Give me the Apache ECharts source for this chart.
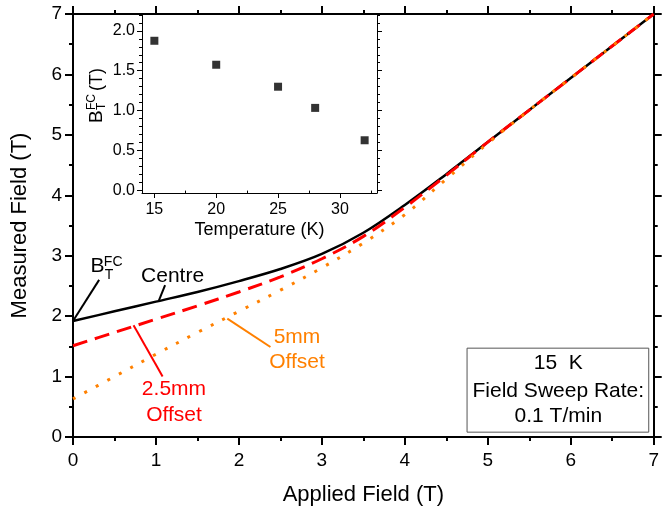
<!DOCTYPE html>
<html>
<head>
<meta charset="utf-8">
<script src="https://cdn.jsdelivr.net/npm/echarts@6/dist/echarts.min.js"></script>
<style>
  html, body { margin: 0; padding: 0; background: #fff; }
  #chart { width: 662px; height: 512px; }
</style>
</head>
<body>
<div id="chart"></div>
<script>
// main curves: measured vs applied field
var appliedField = [0, 0.5, 1, 1.5, 2, 2.5, 3, 3.5, 4, 4.5, 5, 5.5, 6, 6.5, 7];
var centreField  = [1.92, 2.08, 2.24, 2.40, 2.58, 2.78, 3.03, 3.38, 3.84, 4.35, 4.88, 5.41, 5.94, 6.47, 7.0];
var offset25     = [1.51, 1.73, 1.95, 2.17, 2.40, 2.65, 2.95, 3.32, 3.80, 4.33, 4.88, 5.41, 5.94, 6.47, 7.0];
var offset5      = [0.63, 1.00, 1.37, 1.73, 2.08, 2.43, 2.80, 3.21, 3.68, 4.27, 4.86, 5.41, 5.94, 6.47, 7.0];

// inset: B_T^FC vs temperature
var insetTemp = [15, 20, 25, 28, 32];
var insetBtfc = [1.875, 1.575, 1.30, 1.035, 0.63];

// tick values
var insetTempTicks = [15, 20, 25, 30];
var insetTempMinor = [17.5, 22.5, 27.5, 32.5];
var insetBTicks = [0, 0.5, 1.0, 1.5, 2.0];
var insetBMinor = [0.1, 0.2, 0.3, 0.4, 0.6, 0.7, 0.8, 0.9, 1.1, 1.2, 1.3, 1.4, 1.6, 1.7, 1.8, 1.9, 2.1, 2.2];

var FONT = '"Liberation Sans", Arial, sans-serif';
var RED = '#ff0000', ORANGE = '#ff8000';

function pairs(xs, ys) {
  var res = [];
  for (var i = 0; i < xs.length; i++) res.push([xs[i], ys[i]]);
  return res;
}

var chart = echarts.init(document.getElementById('chart'));

function mainAxis(pos, extra) {
  var o = {
    type: 'value', gridIndex: 0, position: pos, min: 0, max: 7, interval: 1,
    axisLine: { show: true, onZero: false, lineStyle: { color: '#000', width: 2 } },
    axisTick: { show: true, inside: false, length: 8, lineStyle: { color: '#000', width: 2 } },
    minorTick: { show: true, splitNumber: 2, length: 4, lineStyle: { color: '#000', width: 2 } },
    splitLine: { show: false },
    axisLabel: { show: false }
  };
  for (var k in extra) o[k] = extra[k];
  return o;
}

function insetAxis(pos, min, max, ticks, len, extra) {
  var o = {
    type: 'value', gridIndex: 1, position: pos, min: min, max: max,
    axisLine: { show: true, onZero: false, lineStyle: { color: '#000', width: 1 } },
    axisTick: { show: true, inside: false, length: len, customValues: ticks, lineStyle: { color: '#000', width: 1 } },
    splitLine: { show: false },
    axisLabel: { show: false }
  };
  for (var k in extra) o[k] = extra[k];
  return o;
}

chart.setOption({
  animation: false,
  backgroundColor: '#fff',
  grid: [
    { left: 73, top: 14, right: 5, bottom: 75 },
    { left: 142, top: 14, width: 235, height: 179, show: true, backgroundColor: '#fff', borderWidth: 0 }
  ],
  xAxis: [
    mainAxis('bottom', {
      axisLabel: { show: true, color: '#000', fontSize: 19, fontFamily: FONT, margin: 14 },
      name: 'Applied Field (T)', nameLocation: 'middle', nameGap: 47,
      nameTextStyle: { color: '#000', fontSize: 22, fontFamily: FONT }
    }),
    mainAxis('top', {}),
    insetAxis('bottom', 14, 33, insetTempTicks, 5, {
      axisLabel: { show: true, customValues: insetTempTicks, color: '#000', fontSize: 16, fontFamily: FONT, margin: 9 },
      name: 'Temperature (K)', nameLocation: 'middle', nameGap: 28,
      nameTextStyle: { color: '#000', fontSize: 18, fontFamily: FONT }
    }),
    insetAxis('bottom', 14, 33, insetTempMinor, 3, { axisLine: { show: false } })
  ],
  yAxis: [
    mainAxis('left', {
      axisLabel: { show: true, color: '#000', fontSize: 19, fontFamily: FONT, margin: 11 },
      name: 'Measured Field (T)', nameLocation: 'middle', nameGap: 42,
      nameTextStyle: { color: '#000', fontSize: 22, fontFamily: FONT }
    }),
    mainAxis('right', {}),
    insetAxis('left', -0.03, 2.21, insetBTicks, 5, {
      axisLabel: {
        show: true, customValues: insetBTicks, color: '#000', fontSize: 16, fontFamily: FONT, margin: 7,
        formatter: function (v) { return v.toFixed(1); }
      }
    }),
    insetAxis('left', -0.03, 2.21, insetBMinor, 3, { axisLine: { show: false } }),
    insetAxis('right', -0.03, 2.21, insetBTicks, 5, {}),
    insetAxis('right', -0.03, 2.21, insetBMinor, 3, { axisLine: { show: false } })
  ],
  series: [
    {
      name: 'Centre', type: 'line', xAxisIndex: 0, yAxisIndex: 0,
      data: pairs(appliedField, centreField), smooth: 0.35, symbol: 'none',
      lineStyle: { color: '#000', width: 2.5 }
    },
    {
      name: '2.5mm Offset', type: 'line', xAxisIndex: 0, yAxisIndex: 0,
      data: pairs(appliedField, offset25), smooth: 0.35, symbol: 'none',
      lineStyle: { color: RED, width: 3, type: [15, 8] }
    },
    {
      name: '5mm Offset', type: 'line', xAxisIndex: 0, yAxisIndex: 0,
      data: pairs(appliedField, offset5), smooth: 0.35, symbol: 'none',
      lineStyle: { color: ORANGE, width: 3, type: [3, 10] }
    },
    {
      name: 'BTFC', type: 'scatter', xAxisIndex: 2, yAxisIndex: 2,
      data: pairs(insetTemp, insetBtfc), symbol: 'rect', symbolSize: 8,
      itemStyle: { color: '#000' }, z: 5
    }
  ]
});

// annotations (positions in main-plot data units)
function P(x, y) { return chart.convertToPixel({ gridIndex: 0 }, [x, y]); }
function Pi(x, y) { return chart.convertToPixel({ gridIndex: 1 }, [x, y]); }

function txt(pos, s, color, size, align, vAlign) {
  return {
    type: 'text', x: pos[0], y: pos[1], z: 20,
    style: {
      text: s, fill: color, fontSize: size, fontFamily: FONT,
      align: align || 'center', textAlign: align || 'center',
      verticalAlign: vAlign || 'middle', textVerticalAlign: vAlign || 'middle'
    }
  };
}
function seg(a, b, color) {
  var p = P(a[0], a[1]), q = P(b[0], b[1]);
  return {
    type: 'line', z: 20,
    shape: { x1: p[0], y1: p[1], x2: q[0], y2: q[1] },
    style: { stroke: color, lineWidth: 2 }
  };
}

var boxA = P(4.75, 1.47), boxB = P(6.94, 0.08);
var insetName = Pi(10.35, 0.846);

chart.setOption({
  graphic: [
    seg([0, 1.92], [0.315, 2.60], '#000'),
    txt(P(0.21, 2.82), 'B', '#000', 21, 'left'),
    txt(P(0.372, 2.90), 'FC', '#000', 14, 'left'),
    txt(P(0.384, 2.68), 'T', '#000', 14, 'left'),
    seg([1.11, 2.515], [1.035, 2.255], '#000'),
    txt(P(1.20, 2.66), 'Centre', '#000', 21),
    seg([0.73, 1.85], [1.08, 1.0], RED),
    txt(P(1.217, 0.794), '2.5mm', RED, 21),
    txt(P(1.217, 0.364), 'Offset', RED, 21),
    seg([1.86, 1.96], [2.38, 1.49], ORANGE),
    txt(P(2.70, 1.65), '5mm', ORANGE, 21),
    txt(P(2.70, 1.23), 'Offset', ORANGE, 21),
    {
      type: 'rect', z: 19,
      shape: { x: boxA[0], y: boxA[1], width: boxB[0] - boxA[0], height: boxB[1] - boxA[1] },
      style: { fill: '#fff', stroke: '#555', lineWidth: 1 }
    },
    txt(P(5.85, 1.22), '15  K', '#000', 21),
    txt(P(5.85, 0.75), 'Field Sweep Rate:', '#000', 21),
    txt(P(5.85, 0.336), '0.1 T/min', '#000', 21),
    {
      type: 'group', x: insetName[0], y: insetName[1], rotation: Math.PI / 2, z: 20,
      children: [
        txt([0, 0], 'B', '#000', 19, 'left'),
        txt([13, -5], 'FC', '#000', 12, 'left'),
        txt([13, 5], 'T', '#000', 12, 'left'),
        txt([32, 0], '(T)', '#000', 18, 'left')
      ]
    }
  ]
});
</script>
</body>
</html>
